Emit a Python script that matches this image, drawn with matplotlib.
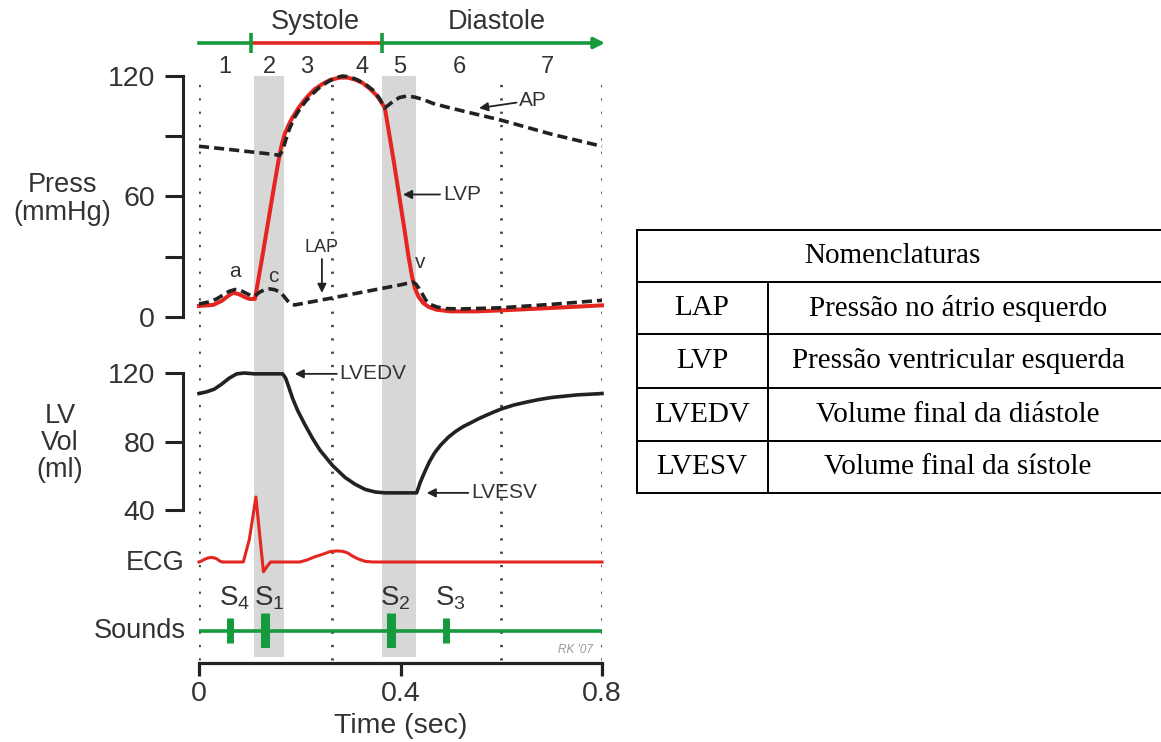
import matplotlib.pyplot as plt

# ---- valores ----
# pressão ventricular esquerda (LVP), mmHg
lvp_t = [0.000, 0.028, 0.045, 0.058, 0.067, 0.078, 0.090, 0.100, 0.111, 0.116, 0.125, 0.135, 0.147,
         0.160, 0.165, 0.170, 0.176, 0.181, 0.186, 0.196, 0.206, 0.218, 0.230, 0.245, 0.260, 0.279,
         0.295, 0.310, 0.325, 0.340, 0.352, 0.362, 0.369, 0.377, 0.387, 0.397, 0.407, 0.416, 0.423,
         0.429, 0.436, 0.445, 0.456, 0.472, 0.500, 0.550, 0.600, 0.700, 0.800]
lvp_p = [5.5, 6.0, 8.0, 10.5, 12.0, 11.5, 10.0, 9.0, 9.0, 16, 29, 44, 62,
         81, 86.5, 91, 94.5, 97.2, 99.5, 103.5, 107, 110.5, 113.5, 116, 118, 119.2,
         119.2, 118.2, 116.5, 113.5, 110.5, 107, 104, 92, 77, 61, 45, 30, 20,
         14, 10, 7, 5, 3.6, 2.8, 2.8, 3.3, 4.5, 5.8]

# pressão aórtica (AP), mmHg
ap_t = [0.000, 0.050, 0.100, 0.140, 0.160, 0.166, 0.172, 0.180, 0.190, 0.200, 0.212, 0.225, 0.240,
        0.255, 0.270, 0.285, 0.300, 0.315, 0.330, 0.345, 0.358, 0.368, 0.376, 0.386, 0.398, 0.412,
        0.428, 0.445, 0.465, 0.500, 0.550, 0.600, 0.650, 0.700, 0.750, 0.800]
ap_p = [85, 83.7, 82.3, 81.2, 80.5, 83, 88, 94, 99.5, 103.5, 107.5, 111, 114.5,
        117, 119, 120, 119.5, 118, 116, 113, 109, 104, 105.5, 107.5, 109.3, 110,
        109.5, 108.3, 106.3, 104, 101, 98, 94.5, 91, 88, 85]

# pressão no átrio esquerdo (LAP), mmHg
lap_t = [0.000, 0.020, 0.035, 0.048, 0.060, 0.072, 0.082, 0.092, 0.102, 0.111, 0.120, 0.130, 0.140,
         0.150, 0.160, 0.168, 0.176, 0.184, 0.190, 0.250, 0.300, 0.350, 0.400, 0.424, 0.430, 0.436,
         0.442, 0.450, 0.460, 0.472, 0.490, 0.520, 0.600, 0.700, 0.800]
lap_p = [6.5, 7.5, 9, 11, 12.8, 13.7, 13.3, 12, 10.8, 10.5, 12.3, 13.6, 14,
         13.6, 12.5, 10.5, 8, 6.3, 6, 8.8, 11.2, 13.6, 16, 17.4, 16.5, 14.5,
         12, 8.5, 6.2, 5, 4.2, 4, 4.6, 6.3, 8.3]

# volume do ventrículo esquerdo, ml
vol_t = [0.000, 0.015, 0.030, 0.045, 0.060, 0.075, 0.090, 0.110, 0.166, 0.172, 0.178, 0.186, 0.196,
         0.210, 0.225, 0.240, 0.265, 0.290, 0.310, 0.330, 0.350, 0.370, 0.432, 0.435, 0.439, 0.444,
         0.450, 0.458, 0.468, 0.480, 0.495, 0.510, 0.525, 0.540, 0.555, 0.570, 0.585, 0.600, 0.625,
         0.650, 0.675, 0.700, 0.750, 0.800]
vol_v = [108, 109, 110.5, 113.5, 117, 119.5, 120, 119.5, 119.5, 117, 112, 105, 98,
         90, 82, 75, 66, 59, 55, 52, 50.5, 50, 50, 52.5, 56, 59.5,
         63.5, 68.5, 73.5, 78, 82.5, 86, 88.8, 91, 93.3, 95.3, 97.2, 99, 101.3,
         103, 104.5, 105.7, 107.2, 108]

# ECG (unidades relativas, pico R = 1)
ecg_t = [0.000, 0.006, 0.012, 0.018, 0.024, 0.030, 0.036, 0.041, 0.046, 0.088, 0.100, 0.113, 0.122,
         0.128, 0.134, 0.142, 0.200, 0.214, 0.230, 0.246, 0.260, 0.273, 0.285, 0.295, 0.305, 0.315,
         0.330, 0.345, 0.800]
ecg_v = [0.0, 0.02, 0.045, 0.062, 0.07, 0.065, 0.045, 0.015, 0.0, 0.0, 0.35, 1.0, 0.3,
         -0.15, -0.08, 0.0, 0.0, 0.03, 0.08, 0.12, 0.16, 0.17, 0.165, 0.14, 0.09, 0.05,
         0.01, 0.0, 0.0]

# bulhas cardíacas
sound_t = [0.062, 0.131, 0.382, 0.491]
sound_h = [0.72, 1.0, 1.0, 0.72]
sound_lab = ['4', '1', '2', '3']

# fases
phase_t = [0.051, 0.139, 0.214, 0.323, 0.398, 0.517, 0.691]
phase_lab = ['1', '2', '3', '4', '5', '6', '7']
divider_t = [0.0, 0.265, 0.6, 0.8]
band_t = [(0.110, 0.168), (0.364, 0.431)]
systole_t = (0.103, 0.364)

# tabela
tab_sigla = ['LAP', 'LVP', 'LVEDV', 'LVESV']
tab_desc = ['Pressão no átrio esquerdo', 'Pressão ventricular esquerda',
            'Volume final da diástole', 'Volume final da sístole']

RED = '#e52620'
GREEN = '#169a3e'
DARK = '#222222'
TXT = '#333333'
GRAY = '#d7d7d7'

plt.rcParams['font.family'] = ['Liberation Sans', 'DejaVu Sans']
plt.rcParams['mathtext.fontset'] = 'custom'
plt.rcParams['mathtext.rm'] = 'Liberation Sans'
plt.rcParams['mathtext.it'] = 'Liberation Sans'

W, H = 1161, 742
X0, X1 = 199, 602
fig = plt.figure(figsize=(W / 100, H / 100), dpi=100)


def box(y_top, y_bot, x0=X0, x1=X1):
    ax = fig.add_axes([x0 / W, 1 - y_bot / H, (x1 - x0) / W, (y_bot - y_top) / H])
    ax.patch.set_alpha(0)
    return ax


def ftext(x, y, s, **kw):
    fig.text(x / W, 1 - y / H, s, **kw)


# fundo: faixas cinzas, linhas pontilhadas e eixo do tempo
bg = box(76, 663)
bg.set_xlim(0, 0.8)
bg.set_ylim(0, 1)
for a, b in band_t:
    bg.axvspan(a, b, ymin=0.01, ymax=1, color=GRAY, lw=0, zorder=0)
for t in divider_t:
    bg.axvline(t, ymin=0.005, ymax=0.997, color='#444444', lw=2.0, ls=(0, (0.8, 4)), zorder=1)
for s in ['top', 'right', 'left']:
    bg.spines[s].set_visible(False)
bg.spines['bottom'].set_linewidth(2.3)
bg.spines['bottom'].set_color(DARK)
bg.set_yticks([])
bg.set_xticks([0, 0.4, 0.8])
bg.set_xticklabels(['0', '0.4', '0.8'])
bg.tick_params(axis='x', direction='out', length=9, width=2.3, color=DARK,
               labelsize=20.5, labelcolor=TXT, pad=4)
bg.set_xlabel('Time (sec)', fontsize=20.5, color=TXT, labelpad=4)
ftext(575, 650, "RK '07", fontsize=8.5, color='#999999', style='italic', ha='center', va='center')

# cabeçalho sístole / diástole
hd = box(0, 76)
hd.set_xlim(0, 0.8)
hd.set_ylim(76, 0)
hd.axis('off')
hd.plot([0, systole_t[0]], [43, 43], color=GREEN, lw=2.6, clip_on=False)
hd.plot(systole_t, [43, 43], color=RED, lw=2.6, clip_on=False)
hd.annotate('', xy=(0.806, 43), xytext=(systole_t[1], 43),
            arrowprops=dict(arrowstyle='-|>', color=GREEN, lw=2.6, mutation_scale=16,
                            shrinkA=0, shrinkB=0), annotation_clip=False)
hd.vlines(systole_t, 33, 53, color=GREEN, lw=2.6)
hd.text(0.230, 22, 'Systole', fontsize=19.5, color=TXT, ha='center', va='center')
hd.text(0.591, 22, 'Diastole', fontsize=19.5, color=TXT, ha='center', va='center')
for t, s in zip(phase_t, phase_lab):
    hd.text(t, 67, s, fontsize=17, color=TXT, ha='center', va='center')


def left_axis(ax, lo, hi, major, minor=()):
    ax.set_xlim(0, 0.8)
    ax.set_ylim(lo, hi)
    for s in ['top', 'right', 'bottom']:
        ax.spines[s].set_visible(False)
    ax.spines['left'].set_position(('outward', 11.5))
    ax.spines['left'].set_bounds(lo, hi)
    ax.spines['left'].set_linewidth(2.2)
    ax.spines['left'].set_color(DARK)
    ax.set_xticks([])
    ax.set_yticks(major)
    ax.set_yticks(list(minor), minor=True)
    ax.tick_params(axis='y', which='both', direction='out', length=13, width=2.2,
                   color=DARK, labelsize=20.5, labelcolor=TXT, pad=7)


arrow = dict(arrowstyle='-|>', color=DARK, lw=1.3, mutation_scale=13, shrinkA=0, shrinkB=0)

# pressões
pa = box(76, 317)
left_axis(pa, 0, 120, [0, 60, 120], [30, 90])
pa.plot(lvp_t, lvp_p, color=RED, lw=2.9, clip_on=False, zorder=2, solid_joinstyle='round')
pa.plot(ap_t, ap_p, color=DARK, lw=2.6, ls=(0, (2.8, 1.4)), clip_on=False, zorder=3)
pa.plot(lap_t, lap_p, color=DARK, lw=2.6, ls=(0, (2.8, 1.4)), clip_on=False, zorder=3)
pa.text(0.071, 22.5, 'a', fontsize=15, color=TXT, ha='center', va='center')
pa.text(0.147, 20, 'c', fontsize=15, color=TXT, ha='center', va='center')
pa.text(0.440, 27, 'v', fontsize=15, color=TXT, ha='center', va='center')
pa.annotate('LAP', xy=(0.244, 12), xytext=(0.244, 34.5), fontsize=13, color=TXT,
            ha='center', va='center', arrowprops=arrow)
pa.annotate('LVP', xy=(0.405, 61), xytext=(0.484, 61), fontsize=15, color=TXT,
            ha='left', va='center', arrowprops=arrow)
pa.annotate('AP', xy=(0.556, 104), xytext=(0.636, 108), fontsize=15, color=TXT,
            ha='left', va='center', arrowprops=arrow)
ftext(62, 199, 'Press\n(mmHg)', fontsize=19.5, color=TXT, ha='center', va='center',
      linespacing=1.05)

# volume
va = box(373, 510)
left_axis(va, 40, 120, [40, 80, 120])
va.plot(vol_t, vol_v, color=DARK, lw=2.6, clip_on=False, solid_joinstyle='round')
va.annotate('LVEDV', xy=(0.190, 119.5), xytext=(0.279, 119.5), fontsize=15, color=TXT,
            ha='left', va='center', arrowprops=arrow)
va.annotate('LVESV', xy=(0.452, 50), xytext=(0.540, 50), fontsize=15, color=TXT,
            ha='left', va='center', arrowprops=arrow)
ftext(60, 443, 'LV\nVol\n(ml)', fontsize=19.5, color=TXT, ha='center', va='center',
      linespacing=1.05)

# ECG
ea = box(497, 562)
ea.set_xlim(0, 0.8)
ea.set_ylim(0, 1)
ea.axis('off')
ea.plot(ecg_t, ecg_v, color=RED, lw=2.2, clip_on=False, solid_joinstyle='round')
ftext(184, 563, 'ECG', fontsize=19.5, color=TXT, ha='right', va='center')

# bulhas
sa = box(613, 648)
sa.set_xlim(0, 0.8)
sa.set_ylim(-1, 1)
sa.axis('off')
sa.axhline(0, color=GREEN, lw=2.6)
for t, h, s in zip(sound_t, sound_h, sound_lab):
    sa.vlines(t, -h, h, color=GREEN, lw=6.5 if h == 1 else 5)
    sa.text(t + 0.008, 1.45, r'$\mathrm{S}_{%s}$' % s, fontsize=20, color=TXT,
            ha='center', va='baseline')
ftext(186, 631, 'Sounds', fontsize=19.5, color=TXT, ha='right', va='center')

# tabela de nomenclaturas
tb = fig.add_axes([636 / W, 1 - 495 / H, (W - 636) / W, (495 - 229) / H])
tb.set_xlim(636, W)
tb.set_ylim(495, 229)
tb.axis('off')
rows = [230, 282, 334, 388, 441, 493]
tb.hlines(rows, 636, W, color='black', lw=1.4)
tb.vlines(636.7, rows[0], rows[-1], color='black', lw=1.4)
tb.vlines(768, rows[1], rows[-1], color='black', lw=1.4)
tfont = dict(family=['Liberation Serif', 'DejaVu Serif'], fontsize=21, color='black',
             ha='center', va='center')
tb.text(892, (rows[0] + rows[1]) / 2, 'Nomenclaturas', **tfont)
for i, (sg, ds) in enumerate(zip(tab_sigla, tab_desc)):
    yc = (rows[i + 1] + rows[i + 2]) / 2
    tb.text(702, yc, sg, **tfont)
    tb.text(958, yc, ds, **tfont)

fig.savefig('out.png', dpi=100, facecolor='white')
